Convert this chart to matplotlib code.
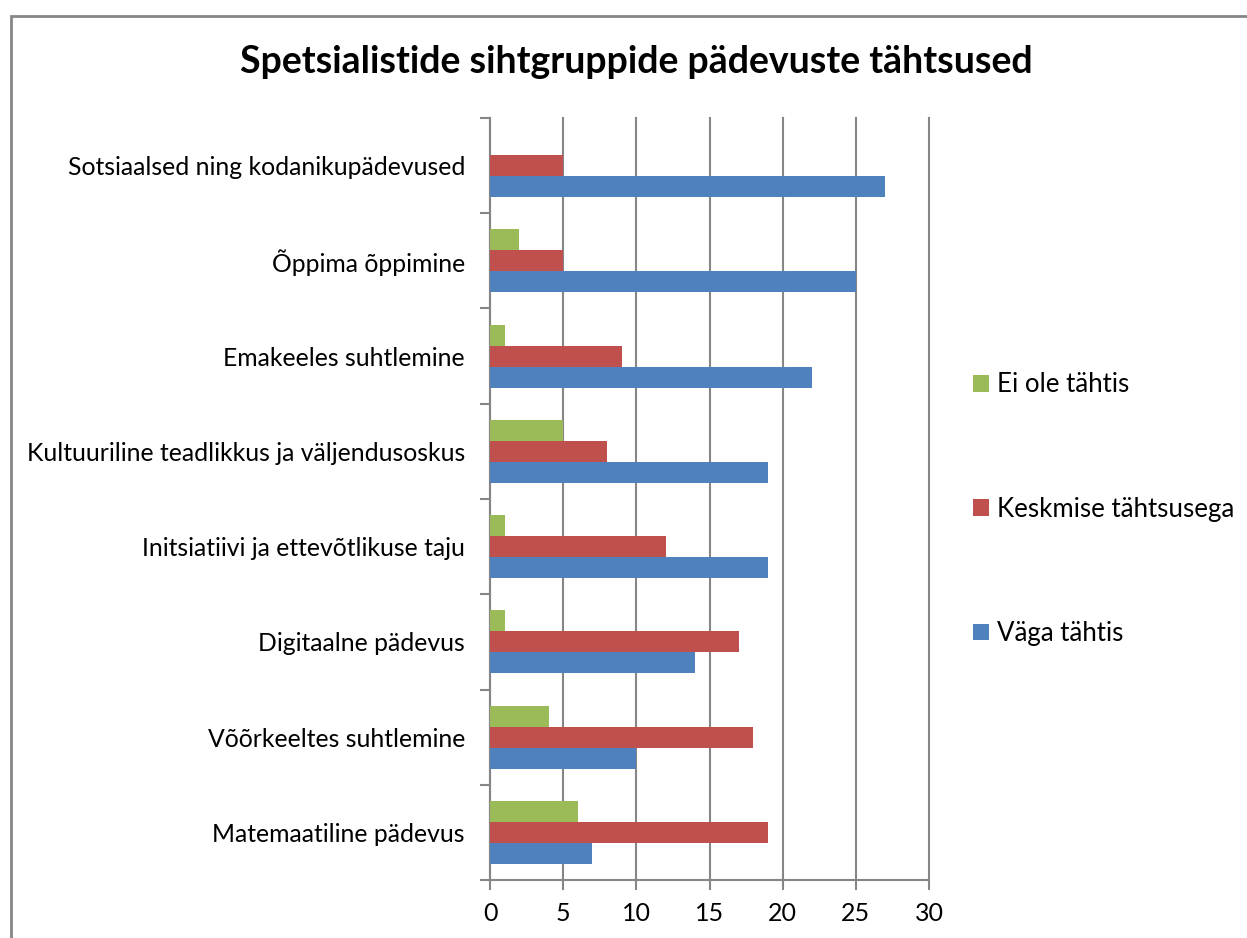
import matplotlib.pyplot as plt
import matplotlib.patches as mpatches
import numpy as np

plt.rcParams['font.family'] = ['Lato', 'DejaVu Sans']

# categories from bottom to top
categories = ["Matemaatiline pädevus", "Võõrkeeltes suhtlemine", "Digitaalne pädevus",
              "Initsiatiivi ja ettevõtlikuse taju", "Kultuuriline teadlikkus ja väljendusoskus",
              "Emakeeles suhtlemine", "Õppima õppimine", "Sotsiaalsed ning kodanikupädevused"]
vaga_tahtis = [7, 10, 14, 19, 19, 22, 25, 27]
keskmise = [19, 18, 17, 12, 8, 9, 5, 5]
ei_ole = [6, 4, 1, 1, 5, 1, 2, 0]

c_blue = "#4F81BD"
c_red = "#C0504D"
c_green = "#9BBB59"
grid_c = "#868686"

W, H = 1247, 938
fig = plt.figure(figsize=(W / 100, H / 100), dpi=100)
ax = fig.add_axes([490 / W, 1 - 880 / H, (929 - 490) / W, (880 - 118) / H])

y = np.arange(len(categories))
h = 0.22
ax.barh(y - h, vaga_tahtis, height=h, color=c_blue, label="Väga tähtis", zorder=3)
ax.barh(y, keskmise, height=h, color=c_red, label="Keskmise tähtsusega", zorder=3)
ax.barh(y + h, ei_ole, height=h, color=c_green, label="Ei ole tähtis", zorder=3)

ax.set_xlim(0, 30)
ax.set_ylim(-0.5, len(categories) - 0.5)
ax.set_xticks(range(0, 31, 5))
ax.tick_params(axis='x', length=7, width=1.5, color=grid_c, labelsize=18, pad=9)
ax.set_yticks(np.arange(-0.5, len(categories), 1))
ax.set_yticklabels([])
ax.tick_params(axis='y', which='major', length=7, width=1.5, color=grid_c)
ax.set_yticks(y, minor=True)
ax.set_yticklabels(categories, minor=True, fontsize=17.8)
ax.tick_params(axis='y', which='minor', length=0, pad=18)

ax.grid(axis='x', color=grid_c, linewidth=1.5, zorder=0)
for gl in ax.get_xgridlines():
    gl.set_clip_on(False)
for s in ['top', 'right']:
    ax.spines[s].set_visible(False)
for s in ['left', 'bottom']:
    ax.spines[s].set_color(grid_c)
    ax.spines[s].set_linewidth(1.5)

handles, labels = ax.get_legend_handles_labels()
fig.legend(handles[::-1], labels[::-1], loc='upper left', bbox_to_anchor=(950 / W, 1 - 349 / H),
           frameon=False, fontsize=18.6, labelspacing=3.85, handlelength=0.62, handleheight=0.62,
           handletextpad=0.3)

fig.text(636 / W, 1 - 62 / H, "Spetsialistide sihtgruppide pädevuste tähtsused",
         ha='center', va='center', fontsize=27, fontweight='bold')

fig.patches.append(mpatches.Rectangle((11 / W, -0.1), 1.2, 1 - 16 / H + 0.1, transform=fig.transFigure,
                                      fill=False, edgecolor=grid_c, linewidth=2))

fig.savefig("out.png", dpi=100)
